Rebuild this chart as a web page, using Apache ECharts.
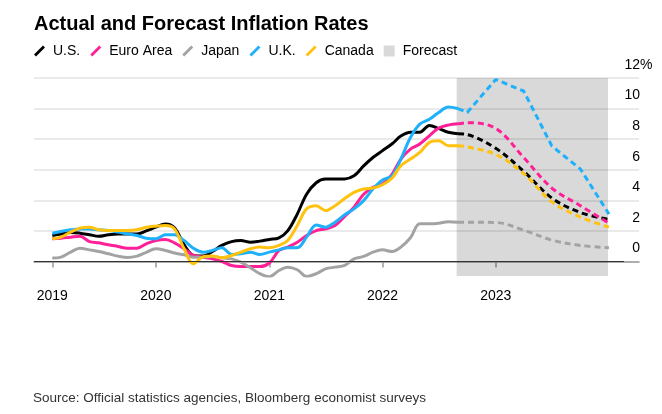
<!DOCTYPE html>
<html>
<head>
<meta charset="utf-8">
<script src="https://cdn.jsdelivr.net/npm/echarts@6/dist/echarts.min.js"></script>
<style>
  html, body { margin: 0; padding: 0; background: #fff; }
  #main { width: 662px; height: 414px; }
</style>
</head>
<body>
<div id="main"></div>
<script>
// monthly actuals, Feb 2019 - Sep 2022
var months = [
  '2019-02-01','2019-03-01','2019-04-01','2019-05-01','2019-06-01','2019-07-01','2019-08-01','2019-09-01','2019-10-01','2019-11-01','2019-12-01',
  '2020-01-01','2020-02-01','2020-03-01','2020-04-01','2020-05-01','2020-06-01','2020-07-01','2020-08-01','2020-09-01','2020-10-01','2020-11-01','2020-12-01',
  '2021-01-01','2021-02-01','2021-03-01','2021-04-01','2021-05-01','2021-06-01','2021-07-01','2021-08-01','2021-09-01','2021-10-01','2021-11-01','2021-12-01',
  '2022-01-01','2022-02-01','2022-03-01','2022-04-01','2022-05-01','2022-06-01','2022-07-01','2022-08-01','2022-09-01'
];
var usActual = [1.7, 1.8, 1.9, 1.85, 1.75, 1.65, 1.75, 1.8, 1.8, 1.8, 2.0,
  2.25, 2.45, 2.2, 1.1, 0.4, 0.35, 0.65, 1.05, 1.3, 1.37, 1.26, 1.33,
  1.44, 1.55, 2.0, 3.1, 4.4, 5.15, 5.4, 5.4, 5.4, 5.6, 6.25, 6.8,
  7.25, 7.7, 8.2, 8.45, 8.45, 8.9, 8.7, 8.45, 8.35];
var euroActual = [1.48, 1.52, 1.59, 1.65, 1.3, 1.22, 1.09, 0.98, 0.87, 0.87, 1.15,
  1.37, 1.44, 1.22, 0.83, 0.4, 0.28, 0.17, 0.0, -0.26, -0.33, -0.33, -0.33,
  -0.1, 0.72, 0.94, 1.26, 1.7, 2.02, 2.13, 2.35, 2.95, 3.55, 4.4, 4.85,
  5.07, 5.72, 6.7, 7.35, 7.68, 8.22, 8.72, 8.92, 9.0];
var japanActual = [0.22, 0.28, 0.61, 0.87, 0.76, 0.65, 0.5, 0.35, 0.26, 0.35, 0.6,
  0.83, 0.72, 0.55, 0.44, 0.27, 0.28, 0.33, 0.24, 0.17, -0.04, -0.41, -0.8,
  -1.0, -0.59, -0.37, -0.54, -0.98, -0.8, -0.48, -0.37, -0.25, 0.17, 0.33, 0.61,
  0.76, 0.65, 0.94, 1.55, 2.46, 2.46, 2.5, 2.6, 2.57];
var ukActual = [1.85, 1.96, 2.07, 2.13, 2.13, 2.07, 2.02, 1.92, 1.8, 1.7, 1.52,
  1.48, 1.74, 1.74, 1.37, 0.87, 0.61, 0.72, 0.9, 0.46, 0.5, 0.61, 0.46,
  0.61, 0.76, 0.9, 0.9, 1.59, 2.39, 2.24, 2.57, 3.05, 3.44, 3.98, 4.74,
  5.33, 5.61, 6.7, 8.11, 8.98, 9.3, 9.74, 10.1, 10.0];
var canadaActual = [1.48, 1.59, 1.92, 2.18, 2.24, 2.07, 2.02, 2.02, 2.02, 2.07, 2.24,
  2.31, 2.35, 2.13, 0.83, -0.15, 0.3, 0.35, 0.24, 0.39, 0.61, 0.83, 0.94,
  0.9, 1.05, 1.37, 2.35, 3.44, 3.65, 3.33, 3.65, 4.12, 4.52, 4.74, 4.8,
  5.02, 5.46, 6.26, 6.7, 7.13, 7.79, 7.9, 7.57, 7.57];

// forecasts (quarterly), starting from the last actual
var fcMonths = ['2022-09-01','2022-10-01','2023-01-01','2023-04-01','2023-07-01','2023-10-01','2024-01-01'];
var usForecast = [8.35, 8.3, 7.4, 5.9, 4.15, 3.2, 2.75];
var euroForecast = [9.0, 9.08, 8.7, 6.8, 4.8, 3.65, 2.5];
var japanForecast = [2.57, 2.57, 2.55, 2.05, 1.4, 1.05, 0.9];
var ukForecast = [10.0, 9.75, 11.9, 11.15, 7.55, 6.05, 3.1];
var canadaForecast = [7.57, 7.5, 7.0, 5.75, 3.9, 2.9, 2.25];

var yearTicks = ['2019-02-01','2020-01-01','2021-01-01','2022-01-01','2023-01-01'];
var yTicks = [0, 2, 4, 6, 8, 10, 12];
var forecastStart = '2022-08-28';
var forecastEnd = '2023-12-29';
var xStart = '2018-12-04';
var xEnd = '2024-04-07';
var zeroLineEnd = '2024-02-19';

var FONT = '"Liberation Sans", Arial, Helvetica, sans-serif';
var slash = 'path://M0,9 L9,0 L11,2 L2,11 Z';

function t(s) {
  var p = s.split('-');
  return new Date(+p[0], +p[1] - 1, +p[2]).getTime();
}
function zip(xs, ys) {
  var out = [];
  for (var i = 0; i < xs.length; i++) out.push([t(xs[i]), ys[i]]);
  return out;
}

var countries = [
  {name: 'U.S.', color: '#000000', actual: usActual, forecast: usForecast, smooth: 0.35},
  {name: 'Euro Area', color: '#ff1f96', actual: euroActual, forecast: euroForecast, smooth: 0.35},
  {name: 'Japan', color: '#a3a3a3', actual: japanActual, forecast: japanForecast, smooth: 0.35},
  {name: 'U.K.', color: '#1eb0fa', actual: ukActual, forecast: ukForecast, smooth: false},
  {name: 'Canada', color: '#ffc20e', actual: canadaActual, forecast: canadaForecast, smooth: 0.35}
];

var series = [{
  name: 'Forecast',
  type: 'line',
  data: [],
  itemStyle: {color: '#d9d9d9'},
  lineStyle: {color: '#d9d9d9'},
  markArea: {
    silent: true,
    itemStyle: {color: 'rgba(0,0,0,0.15)'},
    data: [[{xAxis: t(forecastStart)}, {xAxis: t(forecastEnd)}]]
  },
  markLine: {
    silent: true,
    symbol: 'none',
    label: {show: false},
    lineStyle: {color: '#333', width: 1, type: 'solid'},
    data: [[{coord: [t(xStart), 0]}, {coord: [t(zeroLineEnd), 0]}]]
  }
}];

countries.forEach(function (c) {
  series.push({
    name: c.name,
    type: 'line',
    data: zip(months, c.actual),
    showSymbol: false,
    smooth: 0.35,
    itemStyle: {color: c.color},
    lineStyle: {color: c.color, width: 3},
    emphasis: {disabled: true}
  });
});
countries.forEach(function (c) {
  series.push({
    name: c.name,
    type: 'line',
    data: zip(fcMonths, c.forecast),
    showSymbol: false,
    smooth: c.smooth,
    itemStyle: {color: c.color},
    lineStyle: {color: c.color, width: 3, type: [6, 4]},
    emphasis: {disabled: true}
  });
});

var chart = echarts.init(document.getElementById('main'));
chart.setOption({
  animation: false,
  textStyle: {fontFamily: FONT},
  title: [{
    text: 'Actual and Forecast Inflation Rates',
    left: 29,
    top: 9,
    textStyle: {fontSize: 20, fontWeight: 'bold', color: '#000', fontFamily: FONT}
  }, {
    text: 'Source: Official statistics agencies, Bloomberg economist surveys',
    left: 28,
    top: 386,
    textStyle: {fontSize: 13.5, fontWeight: 'normal', color: '#333', fontFamily: FONT}
  }],
  legend: {
    left: 29,
    top: 39,
    itemWidth: 11,
    itemHeight: 11,
    itemGap: 10,
    textStyle: {fontSize: 14, color: '#000', fontFamily: FONT, padding: [0, 0, 0, 3]},
    data: [
      {name: 'U.S.', icon: slash},
      {name: 'Euro Area', icon: slash},
      {name: 'Japan', icon: slash},
      {name: 'U.K.', icon: slash},
      {name: 'Canada', icon: slash},
      {name: 'Forecast', icon: 'rect'}
    ]
  },
  grid: {left: 34, right: 23, top: 78, bottom: 138, containLabel: false},
  xAxis: {
    type: 'value',
    min: t(xStart),
    max: t(xEnd),
    axisLine: {show: true, lineStyle: {color: '#999', width: 1.5}},
    axisTick: {show: true, inside: false, length: 6, customValues: yearTicks.map(t), lineStyle: {color: '#999', width: 1.5}},
    axisLabel: {
      customValues: yearTicks.map(t),
      margin: 13,
      fontSize: 14,
      color: '#000',
      fontFamily: FONT,
      formatter: function (v) { return String(new Date(v).getFullYear()); }
    },
    splitLine: {show: false}
  },
  yAxis: {
    type: 'value',
    position: 'right',
    min: -0.95,
    max: 12,
    axisLine: {show: false},
    axisTick: {show: false, customValues: yTicks},
    axisLabel: {
      customValues: yTicks,
      inside: true,
      margin: -1,
      verticalAlign: 'bottom',
      padding: [0, 0, 6, 0],
      fontSize: 14,
      color: '#000',
      fontFamily: FONT,
      // the "%" hangs past the right edge, as in the original
      formatter: function (v) { return v === 12 ? '{n|12}{p|%}' : String(v); },
      rich: {
        n: {fontSize: 14, color: '#000', fontFamily: FONT, align: 'left'},
        p: {fontSize: 14, color: '#000', fontFamily: FONT, align: 'left', width: 0}
      }
    },
    splitLine: {show: true, lineStyle: {color: '#e3e3e3', width: 1.5}}
  },
  series: series
});
</script>
</body>
</html>
